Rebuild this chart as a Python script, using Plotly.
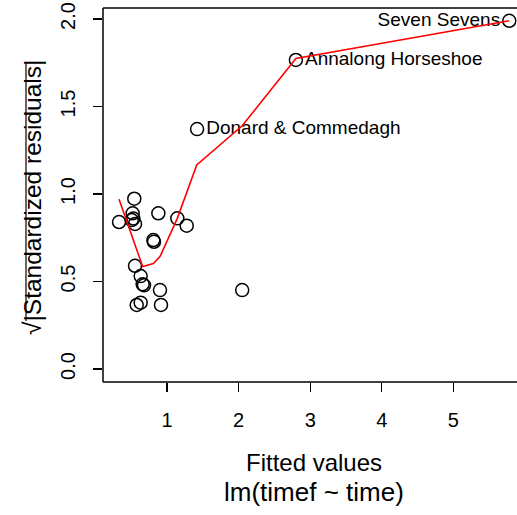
import plotly.graph_objects as go

# Fitted values and sqrt(|standardized residuals|)
fitted = [5.78, 2.80, 1.42, 2.05, 1.275, 1.144, 0.879, 0.543, 0.52, 0.33,
          0.507, 0.553, 0.53, 0.809, 0.818, 0.553, 0.632, 0.66, 0.679,
          0.902, 0.577, 0.632, 0.916]
sqrt_abs_std_resid = [1.99, 1.766, 1.371, 0.451, 0.819, 0.861, 0.89, 0.973, 0.89, 0.84,
                      0.851, 0.829, 0.86, 0.737, 0.727, 0.59, 0.531, 0.484, 0.478,
                      0.451, 0.366, 0.379, 0.366]
point_labels = ["Seven Sevens", "Annalong Horseshoe", "Donard & Commedagh"] + [""] * 20
label_side = ["middle left", "middle right", "middle right"] + ["middle right"] * 20

# Smoother (red line)
smooth_x = [0.33, 0.66, 0.809, 0.902, 1.144, 1.415, 2.05, 2.80, 5.78]
smooth_y = [0.97, 0.585, 0.603, 0.642, 0.861, 1.166, 1.39, 1.775, 1.99]

x_ticks = [1, 2, 3, 4, 5]
y_ticks = [0.0, 0.5, 1.0, 1.5, 2.0]
y_tick_text = ["0.0", "0.5", "1.0", "1.5", "2.0"]

FONT = "Liberation Sans, Arial, Helvetica, sans-serif"

fig = go.Figure()
fig.add_trace(go.Scatter(
    x=fitted, y=sqrt_abs_std_resid, mode="markers+text",
    text=point_labels, textposition=label_side,
    textfont=dict(family=FONT, size=19, color="black"),
    marker=dict(symbol="circle-open", size=13, color="black", line=dict(width=1.5)),
    cliponaxis=False, showlegend=False, hoverinfo="skip"))
fig.add_trace(go.Scatter(
    x=smooth_x, y=smooth_y, mode="lines",
    line=dict(color="#ff0000", width=1.6),
    showlegend=False, hoverinfo="skip"))

frame = dict(color="black", width=1.5)
fig.update_layout(
    template="none",
    width=517, height=515,
    margin=dict(l=103, r=0, t=8, b=133, autoexpand=False),
    paper_bgcolor="white", plot_bgcolor="white",
    font=dict(family=FONT, color="black"),
    hovermode=False,
    xaxis=dict(range=[0.106, 5.888], tickvals=x_ticks, ticks="outside", ticklen=9,
               tickwidth=1.3, tickcolor="black", showline=False,
               showgrid=False, zeroline=False, ticklabeloverflow="allow",
               automargin=False, tickfont=dict(size=20), ticklabelstandoff=11),
    yaxis=dict(range=[-0.0743, 2.063], tickvals=y_ticks, ticktext=y_tick_text,
               ticks="outside", ticklen=9, tickwidth=1.3, tickcolor="black",
               showline=False, showgrid=False, zeroline=False, tickangle=-90,
               automargin=False, ticklabeloverflow="allow",
               tickfont=dict(size=20), ticklabelstandoff=10),
    annotations=[
        dict(text="Fitted values", xref="paper", yref="paper", x=0.5097, y=-0.214,
             xanchor="center", yanchor="middle", showarrow=False,
             font=dict(size=24)),
        dict(text="lm(timef ~ time)", xref="paper", yref="paper", x=0.5097, y=-0.294,
             xanchor="center", yanchor="middle", showarrow=False,
             font=dict(size=26)),
        dict(text="√|Standardized residuals|", xref="paper", yref="paper",
             x=-0.169, y=0.492, xanchor="center", yanchor="middle", textangle=-90,
             showarrow=False, font=dict(size=24.5)),
    ],
    shapes=[
        # plot frame (R box; its right side lies beyond the visible area)
        dict(type="line", xref="paper", yref="paper", x0=0, x1=0, y0=0, y1=1,
             line=frame, layer="above"),
        dict(type="line", xref="paper", yref="paper", x0=0, x1=1.05, y0=0, y1=0,
             line=frame, layer="above"),
        dict(type="line", xref="paper", yref="paper", x0=0, x1=1.05, y0=1, y1=1,
             line=frame, layer="above"),
        # radical overbar of the y-axis label
        dict(type="line", xref="paper", yref="paper", x0=-0.186, x1=-0.186,
             y0=0.163, y1=0.853, line=dict(color="black", width=1.2)),
    ],
)

fig.write_html("out.html", config={"displayModeBar": False, "staticPlot": True},
               post_script="document.body.style.margin='0';document.body.style.overflow='hidden';")
